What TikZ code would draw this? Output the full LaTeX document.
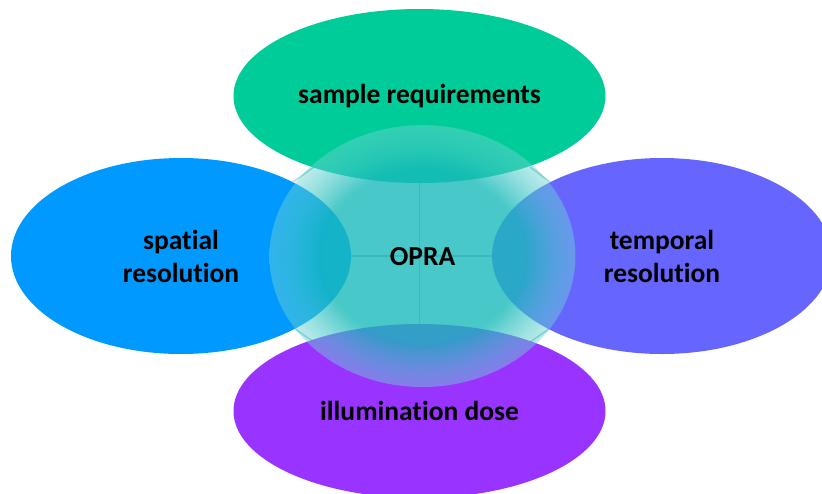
\documentclass[tikz,border=0pt]{standalone}
\usepackage{fontspec}
\setmainfont[Ligatures=NoCommon]{Carlito}
\usetikzlibrary{shapes.geometric,fadings}
\definecolor{cTop}{RGB}{0,204,153}
\definecolor{cLeft}{RGB}{0,153,255}
\definecolor{cRight}{RGB}{102,102,255}
\definecolor{cBottom}{RGB}{153,51,255}
\definecolor{opInner}{RGB}{26,186,186}
\definecolor{opEdge}{RGB}{110,212,212}
\definecolor{seamc}{RGB}{30,160,165}
\definecolor{fadeIn}{gray}{0.8}
\definecolor{fadeOut}{gray}{0.45}
\pgfdeclareradialshading{opshade}{\pgfpointorigin}{color(0bp)=(opInner); color(17bp)=(opInner); color(25bp)=(opEdge); color(50bp)=(opEdge)}
\pgfdeclareradialshading{opfadeshade}{\pgfpointorigin}{color(0bp)=(fadeIn); color(16bp)=(fadeIn); color(25bp)=(fadeOut); color(50bp)=(fadeOut)}
\pgfdeclarefading{opfade}{\pgfuseshading{opfadeshade}}
\tikzset{
  blob/.style={ellipse, inner sep=0pt, draw=none, align=center, text=black,
    font=\bfseries\fontsize{27.5}{33}\selectfont},
  seam/.style={draw=seamc, line width=1.3pt, draw opacity=0.35},
  gapseam/.style={draw=seamc, line width=1.6pt, draw opacity=0.35}
}
\begin{document}
\begin{tikzpicture}[x=1pt,y=-1pt]
\useasboundingbox (0,0) rectangle (822,493);
\clip (0,0) rectangle (822,493);
\node[blob, fill=cTop, minimum width=372pt, minimum height=174pt] (top) at (419.5,96) {sample requirements};
\node[blob, fill=cLeft, minimum width=340pt, minimum height=196pt] (left) at (181,256) {spatial\\resolution};
\node[blob, fill=cRight, minimum width=340pt, minimum height=196pt] (right) at (662,256) {temporal\\resolution};
\node[blob, fill=cBottom, minimum width=372pt, minimum height=174pt] (bottom) at (419.5,411) {illumination dose};
% central translucent circle
\shade[shading=opshade, path fading=opfade] (422.5,256) ellipse [x radius=153, y radius=131];
\path[seam] (top.south) -- (bottom.north);
\path[seam] (left.east) -- (right.west);
\coordinate (g1a) at (293,182); \coordinate (g1b) at (314,167);
\coordinate (g2a) at (530,167); \coordinate (g2b) at (550,182);
\coordinate (g3a) at (295,329); \coordinate (g3b) at (314,342);
\coordinate (g4a) at (530,342); \coordinate (g4b) at (549,329);
\path[gapseam] (g1a) -- (g1b);
\path[gapseam] (g2a) -- (g2b);
\path[gapseam] (g3a) -- (g3b);
\path[gapseam] (g4a) -- (g4b);
\node[blob] (opra) at (422.5,257) {OPRA};
\end{tikzpicture}
\end{document}
